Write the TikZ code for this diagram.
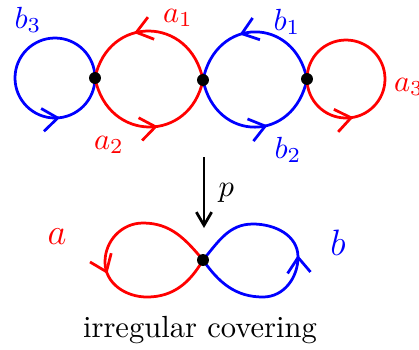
\documentclass[tikz,border=0pt]{standalone}
\usepackage{tikz}
\usetikzlibrary{arrows.meta, decorations.markings}

\begin{document}
\begin{tikzpicture}[x=0.327pt, y=0.327pt, line width=0.9pt,
  every node/.style={font=\normalsize},
  arrowat/.style={postaction={decorate, decoration={markings,
    mark=at position #1 with {\arrow{Straight Barb[length=5pt,width=7.5pt]}}}}},
  vertex/.style={circle, fill=black, inner sep=0pt, minimum size=3.9pt}]
  \useasboundingbox (0,0) rectangle (419,349);

  % Cover
  \coordinate (v1) at (95,271);
  \coordinate (v2) at (203,269);
  \coordinate (v3) at (307,270);
  \draw[blue, arrowat=0.77] (v1) arc[start angle=0, end angle=360, radius=40];
  \draw[red, arrowat=0.6] (v2) .. controls (190,334) and (108,334) .. (v1);
  \draw[red, arrowat=0.56] (v1) .. controls (108,206) and (190,206) .. (v2);
  \draw[blue, arrowat=0.6] (v3) .. controls (294,333) and (216,333) .. (v2);
  \draw[blue, arrowat=0.58] (v2) .. controls (216,206) and (294,206) .. (v3);
  \draw[red, arrowat=0.28] (v3) arc[start angle=180, end angle=540, radius=39];
  \foreach \v in {v1,v2,v3}
    \node[vertex] (dot-\v) at (\v) {};
  \node[text=blue] (lb3) at (28,329) {$b_3$};
  \node[text=red] (la1) at (178,331) {$a_1$};
  \node[text=blue] (lb1) at (287,327) {$b_1$};
  \node[text=red] (la3) at (409,262) {$a_3$};
  \node[text=red] (la2) at (109,204) {$a_2$};
  \node[text=blue] (lb2) at (288,199) {$b_2$};

  % Map
  \coordinate (ptop) at (204,192);
  \coordinate (pbot) at (204,121);
  \draw[-{Straight Barb[length=4.3pt,width=5pt]}] (ptop) -- node[right, xshift=1pt] (lp) {$p$} (pbot);

  % Base
  \coordinate (w) at (203,89);
  \draw[red, arrowat=0.55] (w) to[out=130,in=0] (143,126) to[out=180,in=90] (105,87)
    to[out=-90,in=180] (147,52) to[out=0,in=-120] (w);
  \draw[blue, arrowat=0.52] (w) to[out=-55,in=180] (263,52) to[out=0,in=-90] (298,92)
    to[out=90,in=0] (253,125) to[out=180,in=50] (w);
  \node[vertex] (dot-w) at (w) {};
  \node[text=red, font=\large] (la) at (57,112) {$a$};
  \node[text=blue, font=\large] (lb) at (338,106) {$b$};
  \node (caption) at (200,19) {irregular covering};
\end{tikzpicture}
\end{document}
